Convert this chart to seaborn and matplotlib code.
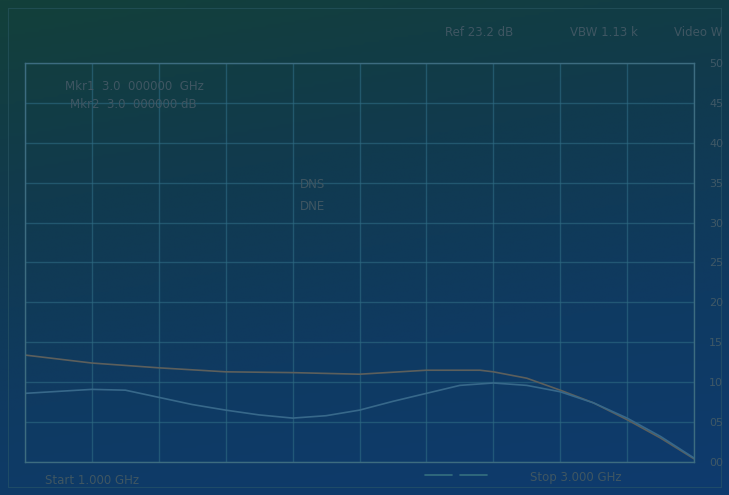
import numpy as np
import pandas as pd
import seaborn as sns
import matplotlib.pyplot as plt
from matplotlib.colors import LinearSegmentedColormap

sns.set_theme(style="ticks")
plt.rcParams['font.family'] = ['DejaVu Sans']

# trace data, x in grid divisions (0..10), y in display units
trace1_x = [0, 1, 2, 3, 4, 5, 6, 6.8, 7, 7.5, 8, 8.5, 9, 9.5, 10]
trace1_y = [13.4, 12.4, 11.8, 11.3, 11.2, 11.0, 11.5, 11.5, 11.3, 10.5, 9.0, 7.4, 5.3, 3.0, 0.4]
trace2_x = [0, 1, 1.5, 2, 2.5, 3, 3.5, 4, 4.5, 5, 5.5, 6, 6.5, 7, 7.5, 8, 8.5, 9, 9.5, 10]
trace2_y = [8.6, 9.1, 9.0, 8.1, 7.2, 6.5, 5.9, 5.5, 5.8, 6.5, 7.6, 8.6, 9.6, 9.9, 9.6, 8.8, 7.4, 5.5, 3.2, 0.5]
ytick_vals = [0, 5, 10, 15, 20, 25, 30, 35, 40, 45, 50]
ytick_text = ["00", "05", "10", "15", "20", "25", "30", "35", "40", "45", "50"]
header_text = ["Ref 23.2 dB", "VBW 1.13 k", "Video W"]
marker_text = ["Mkr1  3.0  000000  GHz", "Mkr2  3.0  000000 dB"]
center_text = ["DNS", "DNE"]
start_text = "Start 1.000 GHz"
stop_text = "Stop 3.000 GHz"

df = pd.concat([
    pd.DataFrame({"x": trace1_x, "y": trace1_y, "trace": "t1"}),
    pd.DataFrame({"x": trace2_x, "y": trace2_y, "trace": "t2"}),
])

fig = plt.figure(figsize=(7.29, 4.95), dpi=100)

# background gradient over whole figure
bg = fig.add_axes([0, 0, 1, 1], zorder=-10)
gx, gy = np.meshgrid(np.linspace(0, 1, 200), np.linspace(0, 1, 200))
grad = 0.8 * gy + 0.2 * gx
cmap = LinearSegmentedColormap.from_list("bg", ["#13403a", "#113a4e", "#0f3a62", "#0e3b6e"])
bg.imshow(grad, cmap=cmap, aspect="auto", extent=[0, 1, 0, 1], origin="upper")
bg.set_xlim(0, 1)
bg.set_ylim(0, 1)
bg.axis("off")
bg.plot([0.011, 0.011, 0.989, 0.989, 0.011], [0.016, 0.984, 0.984, 0.016, 0.016],
        color="#2f5c68", lw=0.8, alpha=0.5)

ax = fig.add_axes([0.0343, 0.0667, 0.9177, 0.806])
ax.set_facecolor("none")
sns.lineplot(data=df, x="x", y="y", hue="trace", palette=["#5c5f5c", "#37688a"],
             linewidth=1.2, legend=False, ax=ax)
ax.set_xlim(0, 10)
ax.set_ylim(0, 50)
ax.set_xticks(range(11))
ax.set_xticklabels([])
ax.set_yticks(ytick_vals)
ax.set_yticklabels(ytick_text)
ax.yaxis.tick_right()
ax.tick_params(axis="both", length=0, colors="#3f5866", labelsize=8, pad=11)
ax.grid(True, color="#2f6c84", lw=1.0, alpha=0.6)
for s in ax.spines.values():
    s.set_color("#3d6c80")
    s.set_linewidth(1.0)
ax.set_xlabel("")
ax.set_ylabel("")

tc = "#3f5662"
fig.text(445 / 729, 1 - 32 / 495, header_text[0], color=tc, fontsize=8.5, va="center")
fig.text(570 / 729, 1 - 32 / 495, header_text[1], color=tc, fontsize=8.5, va="center")
fig.text(722 / 729, 1 - 32 / 495, header_text[2], color=tc, fontsize=8.5, va="center", ha="right")
fig.text(65 / 729, 1 - 86 / 495, marker_text[0], color=tc, fontsize=8.5, va="center")
fig.text(70 / 729, 1 - 105 / 495, marker_text[1], color=tc, fontsize=8.5, va="center")
fig.text(300 / 729, 1 - 184 / 495, center_text[0], color=tc, fontsize=8.5, va="center")
fig.text(300 / 729, 1 - 206 / 495, center_text[1], color=tc, fontsize=8.5, va="center")
fig.text(45 / 729, 1 - 480 / 495, start_text, color=tc, fontsize=8.5, va="center")
fig.text(530 / 729, 1 - 478 / 495, stop_text, color=tc, fontsize=8.5, va="center")
bg.plot([425 / 729, 452 / 729], [1 - 475 / 495] * 2, color="#35707f", lw=1.2)
bg.plot([460 / 729, 487 / 729], [1 - 475 / 495] * 2, color="#35707f", lw=1.2)

fig.savefig("out.png", dpi=100)
